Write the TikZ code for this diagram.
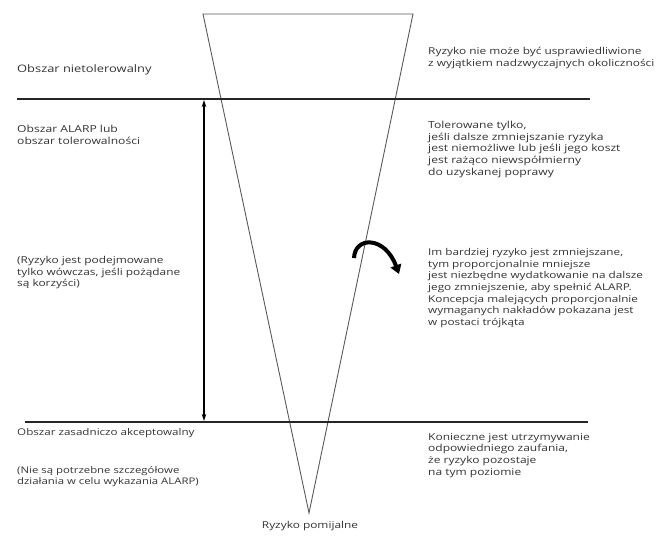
\documentclass[tikz,border=0pt]{standalone}
\usepackage{fontspec}
\setmainfont{Open Sans}
\newfontfamily\widesans[FakeStretch=1.25]{Open Sans}
\usetikzlibrary{arrows.meta}
\begin{document}
\begin{tikzpicture}[x=1pt,y=-1pt,
  txt/.style={anchor=north west, inner sep=0pt, align=left, font=\widesans\fontsize{#1}{11.7}\selectfont, text=black!80},
  txt/.default=9.5,
  tri/.style={draw=black!65, line width=0.9pt},
  hline/.style={draw=black!85, line width=1.3pt},
  hline2/.style={draw=black!85, line width=2pt},
  darrow/.style={draw=black, line width=1.1pt, {Stealth[length=7pt,width=4.5pt]}-{Stealth[length=7pt,width=4.5pt]}},
  carrow/.style={draw=black, line width=4pt, -{Triangle[length=9pt,width=11pt]}}]
\useasboundingbox (0,0) rectangle (657,538);
% triangle
\coordinate (tl) at (203,14);
\coordinate (tr) at (413,14);
\coordinate (ap) at (309,513);
\draw[tri] (tl) -- (tr) -- (ap) -- cycle;
% horizontal lines
\coordinate (h1a) at (17,99);
\coordinate (h1b) at (590,99);
\coordinate (h2a) at (25,422);
\coordinate (h2b) at (588,422);
\draw[hline] (h1a) -- (h1b);
\draw[hline2] (h2a) -- (h2b);
% double arrow
\coordinate (at) at (204,100);
\coordinate (ab) at (204,421);
\draw[darrow] (at) -- (ab);
% curved arrow
\coordinate (cs) at (354,258);
\coordinate (ce) at (399,274);
\draw[carrow] (cs) .. controls (355,236) and (385,236) .. (ce);
% texts
\node[txt=10.3] (t1) at (17,64) {Obszar nietolerowalny};
\node[txt=9.5] (t2) at (428,47) {Ryzyko nie może być usprawiedliwione\\z wyjątkiem nadzwyczajnych okoliczności};
\node[txt=9.7] (t3) at (17,125) {Obszar ALARP lub\\obszar tolerowalności};
\node[txt=9.7] (t4) at (428,121) {Tolerowane tylko,\\jeśli dalsze zmniejszanie ryzyka\\jest niemożliwe lub jeśli jego koszt\\jest rażąco niewspółmierny\\do uzyskanej poprawy};
\node[txt=9.5] (t5) at (17,256) {(Ryzyko jest podejmowane\\tylko wówczas, jeśli pożądane\\są korzyści)};
\node[txt=9.4] (t6) at (428,248) {Im bardziej ryzyko jest zmniejszane,\\tym proporcjonalnie mniejsze\\jest niezbędne wydatkowanie na dalsze\\jego zmniejszenie, aby spełnić ALARP.\\Koncepcja malejących proporcjonalnie\\wymaganych nakładów pokazana jest\\w postaci trójkąta};
\node[txt=9.3] (t7) at (17,428) {Obszar zasadniczo akceptowalny};
\node[txt=9.1] (t8) at (17,466) {(Nie są potrzebne szczegółowe\\działania w celu wykazania ALARP)};
\node[txt=9.6] (t9) at (428,433) {Konieczne jest utrzymywanie\\odpowiedniego zaufania,\\że ryzyko pozostaje\\na tym poziomie};
\node[txt=9.5, anchor=north] (t10) at (310,521) {Ryzyko pomijalne};
\end{tikzpicture}
\end{document}
